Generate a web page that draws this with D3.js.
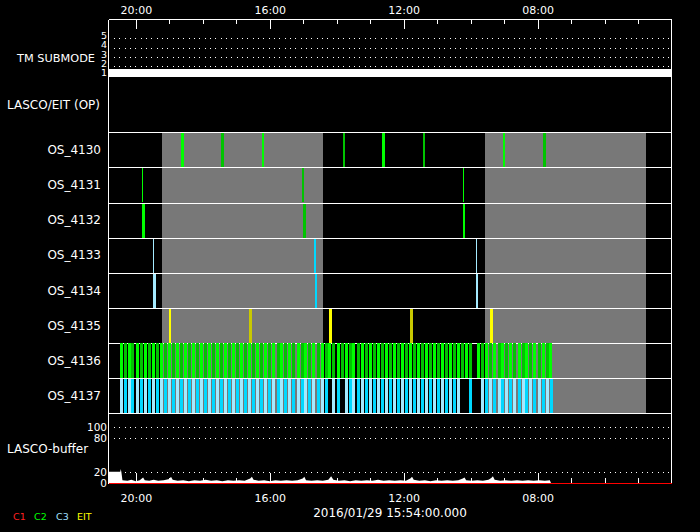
<!DOCTYPE html>
<html><head><meta charset="utf-8">
<script src="https://cdn.jsdelivr.net/npm/d3@7"></script>
<style>
body{margin:0;background:#000;}
svg{display:block;background:#000;}
text{font-family:"DejaVu Sans",sans-serif;fill:#fff;}
</style>
</head><body>
<svg id="chart" width="700" height="532"></svg>
<script>
// ---------------- DATA ----------------
const timeStart = "20:49";
const timeEnd = "04:00";
const majorTicks = ["20:00", "16:00", "12:00", "08:00"];
const minorTicks = ["19:00","18:00","17:00","15:00","14:00","13:00","11:00","10:00","09:00","07:00","06:00","05:00"];
const dateLabel = "2016/01/29 15:54:00.000";

const tmLevels = [1, 2, 3, 4, 5];
const tmTimes = ["20:49", "04:00"];
const tmValues = [1, 1];

const rowNames = ["OS_4130","OS_4131","OS_4132","OS_4133","OS_4134","OS_4135","OS_4136","OS_4137"];
const rowCamera = ["C2","C2","C2","C3","C3","EIT","C2","C3"];

const shadeStart = ["19:13", "09:35"];
const shadeEnd   = ["14:25", "04:47"];

// single exposures: centre time and duration (minutes)
const os4130Times = ["18:36","17:24","16:12","13:48","12:36","11:24","09:00","07:48"];
const os4130Dur   = [5.4, 5.4, 3.6, 2.7, 5.4, 2.7, 2.7, 5.4];
const os4131Times = ["19:48","15:00","10:12"];
const os4131Dur   = [1.8, 2.7, 1.8];
const os4132Times = ["19:47","14:59","10:12"];
const os4132Dur   = [5.4, 4.5, 2.7];
const os4133Times = ["19:28","14:39","09:50"];
const os4133Dur   = [1.8, 2.7, 1.8];
const os4134Times = ["19:27","14:38","09:49"];
const os4134Dur   = [5.4, 3.6, 3.6];
const os4135Times = ["18:58","16:34","14:11","11:46","09:22"];
const os4135Dur   = [3.6, 5.4, 5.4, 5.4, 5.4];

// dense sequences
const os4136Times = ["20:27","20:20","20:13","20:06","19:58","19:51","19:44","19:37","19:30","19:22","19:15","19:08","19:01","18:54","18:46","18:39","18:32","18:25","18:18","18:10","18:03","17:56","17:49","17:42","17:34","17:27","17:20","17:13","17:06","16:58","16:51","16:44","16:37","16:30","16:22","16:15","16:08","16:01","15:54","15:46","15:39","15:32","15:25","15:18","15:10","15:03","14:56","14:49","14:42","14:34","14:27","14:20","14:13","14:06","13:58","13:51","13:44","13:37","13:30","13:22","13:15","13:08","13:01","12:54","12:46","12:39","12:32","12:25","12:18","12:10","12:03","11:56","11:49","11:42","11:34","11:27","11:20","11:13","11:06","10:58","10:51","10:44","10:37","10:30","10:22","10:15","10:08","10:01","09:46","09:39","09:32","09:25","09:18","09:10","09:03","08:56","08:49","08:42","08:34","08:27","08:20","08:13","08:06","07:58","07:51","07:44","07:37"];
const os4137Times = ["20:27","20:20","20:13","20:06","19:58","19:51","19:44","19:37","19:30","19:22","19:15","19:08","19:01","18:54","18:46","18:39","18:32","18:25","18:18","18:10","18:03","17:56","17:49","17:42","17:34","17:27","17:20","17:13","17:06","16:58","16:51","16:44","16:37","16:30","16:22","16:15","16:08","16:01","15:54","15:46","15:39","15:32","15:25","15:18","15:10","15:03","14:56","14:49","14:42","14:34","14:27","14:20","14:06","13:58","13:44","13:37","13:30","13:22","13:15","13:08","13:01","12:54","12:46","12:39","12:32","12:25","12:18","12:10","12:03","11:56","11:49","11:42","11:34","11:27","11:20","11:13","11:06","10:58","10:51","10:44","10:37","10:30","10:22","10:01","09:39","09:32","09:25","09:18","09:10","09:03","08:56","08:49","08:42","08:34","08:27","08:20","08:13","08:06","07:58","07:51","07:44","07:36"];

// LASCO buffer
const bufferTicks = [0, 20, 80, 100];
const bufferGrid = [20, 80, 100];
const bufferTimes = ["20:49","20:28","20:27","20:26","20:24","20:15","20:08","20:00","19:53","19:47","19:44","19:36","19:28","19:20","19:10","19:00","18:57","18:54","18:45","18:35","18:25","18:15","18:05","17:55","17:45","17:35","17:25","17:15","17:05","16:55","16:45","16:35","16:32","16:29","16:20","16:10","16:00","15:50","15:40","15:30","15:20","15:10","15:01","14:58","14:55","14:45","14:35","14:25","14:15","14:10","14:06","13:56","13:46","13:36","13:26","13:16","13:06","12:56","12:46","12:36","12:26","12:16","12:06","11:56","11:48","11:45","11:42","11:32","11:22","11:12","11:02","10:52","10:42","10:32","10:22","10:14","10:11","10:08","09:58","09:48","09:38","09:28","09:23","09:20","09:17","09:07","08:57","08:47","08:37","08:27","08:17","08:07","07:57","07:47","07:38","07:36"];
const bufferValues = [20,20,25,20,5,4,6,3,5,10,5,4,6,4,5,7,11,6,4,5,3,5,4,6,4,5,3,5,4,5,4,8,11,6,4,5,3,5,4,5,4,5,8,11,5,4,5,4,6,12,6,4,5,3,5,4,5,4,6,4,5,4,5,4,8,11,6,4,5,3,5,4,5,4,5,8,10,5,4,5,4,6,9,12,6,4,5,4,5,4,5,4,5,4,5,0];
const c1Times = ["20:49","04:00"];
const c1Values = [0, 0];

const legendNames = ["C1","C2","C3","EIT"];

// ---------------- STYLE ----------------
const camColors = {
  C1: ["#ff0000","#ff0000"],
  C2: ["#00ff00","#00c400"],
  C3: ["#a4eaff","#00d8ff"],
  EIT:["#ffff00","#c8c800"]
};
const legendColors = {C1:"#ff2020", C2:"#00ff00", C3:"#a0e0ff", EIT:"#ffff00"};

const parseT = s => { const [h, m] = s.split(":").map(Number); return new Date(2016, 0, 29, h, m); };
const addMin = (d, m) => new Date(d.getTime() + m * 60000);

const L = 108.5, R = 671.5, TOP = 19.5, BOT = 483.5;

const svg = d3.select("#chart");
svg.append("rect").attr("width", 700).attr("height", 532).attr("fill", "#000");

const x = d3.scaleTime().domain([parseT(timeStart), parseT(timeEnd)]).range([L, R]);
const yRow = d3.scaleBand().domain(rowNames).range([132.3, 413.3]);
const yTm = d3.scaleLinear().domain([0, 5]).range([85, 38.35]);
const yBuf = d3.scaleLinear().domain([0, 100]).range([483, 427.2]);

const crisp = v => Math.round(v) + 0.5;

// grey shading behind rows
svg.append("g").selectAll("rect").data(shadeStart).join("rect")
  .attr("x", d => Math.round(x(parseT(d))))
  .attr("width", (d, i) => Math.round(x(parseT(shadeEnd[i])) - x(parseT(d))))
  .attr("y", yRow.range()[0])
  .attr("height", yRow.range()[1] - yRow.range()[0])
  .attr("fill", "#787878")
  .attr("shape-rendering", "crispEdges");

// TM submode dotted grid
svg.append("g").selectAll("line").data(tmLevels).join("line")
  .attr("x1", 114).attr("x2", 669)
  .attr("y1", d => crisp(yTm(d))).attr("y2", d => crisp(yTm(d)))
  .attr("stroke", "#fff").attr("stroke-width", 1)
  .attr("stroke-dasharray", "1 4.33")
  .attr("shape-rendering", "crispEdges");

// TM submode bar
svg.append("rect")
  .attr("x", x(parseT(tmTimes[0])))
  .attr("width", x(parseT(tmTimes[1])) - x(parseT(tmTimes[0])))
  .attr("y", yTm(tmValues[0]) - 6.5)
  .attr("height", 7.5)
  .attr("fill", "#fff")
  .attr("shape-rendering", "crispEdges");

// Row boundary lines
const boundaries = rowNames.map(r => yRow(r)).concat([yRow.range()[1]]);
const lineUnder = svg.append("g");
const barsG = svg.append("g");
const lineOver = svg.append("g");
boundaries.forEach((b, i) => {
  const g = (i === 6) ? lineUnder : lineOver;
  g.append("line").attr("x1", L).attr("x2", R)
    .attr("y1", crisp(b)).attr("y2", crisp(b))
    .attr("stroke", "#fff").attr("stroke-width", 1.3)
    .attr("shape-rendering", "crispEdges");
});

// Bars
const singles = {
  OS_4130: [os4130Times, os4130Dur],
  OS_4131: [os4131Times, os4131Dur],
  OS_4132: [os4132Times, os4132Dur],
  OS_4133: [os4133Times, os4133Dur],
  OS_4134: [os4134Times, os4134Dur],
  OS_4135: [os4135Times, os4135Dur]
};
rowNames.forEach((r, ri) => {
  const cols = camColors[rowCamera[ri]];
  if (singles[r]) {
    const [times, durs] = singles[r];
    barsG.append("g").selectAll("rect").data(times).join("rect")
      .attr("x", (d, i) => {
        const c = x(parseT(d)); const w = Math.max(1, Math.abs(x(addMin(parseT(d), durs[i])) - c));
        return Math.round(c - w / 2);
      })
      .attr("width", (d, i) => Math.max(1, Math.round(Math.abs(x(addMin(parseT(d), durs[i])) - x(parseT(d))))))
      .attr("y", Math.round(yRow(r)))
      .attr("height", Math.round(yRow.bandwidth()))
      .attr("fill", (d, i) => cols[i % 2])
      .attr("shape-rendering", "crispEdges");
  }
});
const dense = {OS_4136: os4136Times, OS_4137: os4137Times};
Object.keys(dense).forEach(r => {
  const ri = rowNames.indexOf(r);
  const cols = camColors[rowCamera[ri]];
  const y0 = r === "OS_4137" ? Math.round(yRow(r)) + 1 : Math.round(yRow(r));
  barsG.append("g").selectAll("rect").data(dense[r]).join("rect")
    .attr("x", d => Math.round(x(parseT(d))) - 1)
    .attr("width", 3)
    .attr("y", y0)
    .attr("height", Math.round(yRow(r) + yRow.bandwidth()) - y0)
    .attr("fill", (d, i) => cols[i % 2])
    .attr("shape-rendering", "crispEdges");
});

// Buffer panel
svg.append("g").selectAll("line").data(bufferGrid).join("line")
  .attr("x1", 114).attr("x2", 669)
  .attr("y1", d => crisp(yBuf(d))).attr("y2", d => crisp(yBuf(d)))
  .attr("stroke", "#fff").attr("stroke-dasharray", "1 4.33")
  .attr("shape-rendering", "crispEdges");

// frame
const frame = svg.append("g").attr("stroke", "#fff").attr("stroke-width", 1).attr("shape-rendering", "crispEdges");
frame.append("line").attr("x1", L).attr("x2", L).attr("y1", TOP).attr("y2", BOT);
frame.append("line").attr("x1", R).attr("x2", R).attr("y1", TOP).attr("y2", BOT);
frame.append("line").attr("x1", L).attr("x2", R).attr("y1", TOP).attr("y2", TOP);
frame.append("line").attr("x1", L).attr("x2", R).attr("y1", BOT - 0.5).attr("y2", BOT - 0.5);

// C1 line at zero
svg.append("path")
  .datum(c1Times.map((t, i) => [parseT(t), c1Values[i]]))
  .attr("d", d3.line().x(d => x(d[0])).y(d => crisp(yBuf(d[1]))))
  .attr("stroke", "#ff0000").attr("fill", "none").attr("shape-rendering", "crispEdges");

// total buffer area
svg.append("path")
  .datum(bufferTimes.map((t, i) => [parseT(t), bufferValues[i]]))
  .attr("d", d3.area().x(d => x(d[0])).y0(yBuf(0)).y1(d => yBuf(d[1])))
  .attr("fill", "#fff");

// Axes
const fmt = d3.timeFormat("%H:%M");
const topMajor = d3.axisTop(x).tickValues(majorTicks.map(parseT)).tickSize(-10).tickPadding(5).tickFormat(fmt);
const topMinor = d3.axisTop(x).tickValues(minorTicks.map(parseT)).tickSize(-5).tickFormat("");
const botMajor = d3.axisBottom(x).tickValues(majorTicks.map(parseT)).tickSize(-10).tickPadding(11).tickFormat(fmt);
const botMinor = d3.axisBottom(x).tickValues(minorTicks.map(parseT)).tickSize(-5).tickFormat("");

function styleAxis(g) {
  g.select(".domain").remove();
  g.selectAll("line").attr("stroke", "#fff").attr("shape-rendering", "crispEdges");
  g.selectAll("text").attr("fill", "#fff").style("font-size", "11px").style("font-family", "DejaVu Sans, sans-serif");
}
svg.append("g").attr("transform", `translate(0,${TOP - 0.5})`).call(topMajor).call(styleAxis);
svg.append("g").attr("transform", `translate(0,${TOP - 0.5})`).call(topMinor).call(styleAxis);
svg.append("g").attr("transform", `translate(0,${BOT - 0.5})`).call(botMajor).call(styleAxis);
svg.append("g").attr("transform", `translate(0,${BOT - 0.5})`).call(botMinor).call(styleAxis);

// TM labels
svg.append("g").selectAll("text").data(tmLevels).join("text")
  .attr("x", 107).attr("y", d => yTm(d) + 0.5)
  .attr("text-anchor", "end").style("font-size", "9.5px")
  .text(d => d);
svg.append("text").attr("x", 95).attr("y", 58).attr("dy", "0.35em")
  .attr("text-anchor", "end").style("font-size", "11.3px").text("TM SUBMODE");

svg.append("text").attr("x", 100).attr("y", 105).attr("dy", "0.35em")
  .attr("text-anchor", "end").style("font-size", "12px").text("LASCO/EIT (OP)");

// row labels
svg.append("g").selectAll("text").data(rowNames).join("text")
  .attr("x", 101).attr("y", d => yRow(d) + yRow.bandwidth() / 2).attr("dy", "0.35em")
  .attr("text-anchor", "end").style("font-size", "12px").text(d => d);

// buffer labels
svg.append("g").selectAll("text").data(bufferTicks).join("text")
  .attr("x", 107).attr("y", d => yBuf(d)).attr("dy", "0.36em")
  .attr("text-anchor", "end").style("font-size", "10.5px").text(d => d);
svg.append("text").attr("x", 7).attr("y", 449).attr("dy", "0.35em")
  .style("font-size", "12px").text("LASCO-buffer");

// date label
svg.append("text").attr("x", (L + R) / 2).attr("y", 513).attr("dy", "0.35em")
  .attr("text-anchor", "middle").style("font-size", "12px").text(dateLabel);

// legend
const legendX = [13, 34, 56, 77];
svg.append("g").selectAll("text").data(legendNames).join("text")
  .attr("x", (d, i) => legendX[i]).attr("y", 517).attr("dy", "0.35em")
  .style("font-size", "9.5px").style("fill", d => legendColors[d]).text(d => d);
</script>
</body></html>
